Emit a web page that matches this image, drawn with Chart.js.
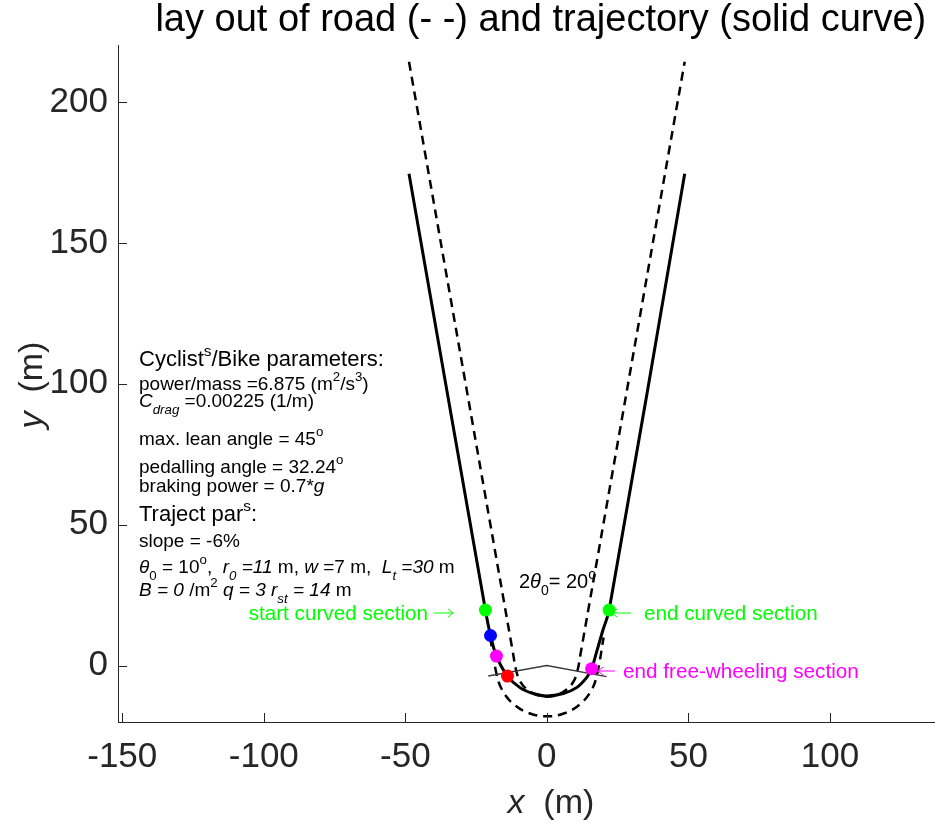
<!DOCTYPE html>
<html>
<head>
<meta charset="utf-8">
<script src="https://cdn.jsdelivr.net/npm/chart.js@4/dist/chart.umd.min.js"></script>
<style>
html, body { margin: 0; padding: 0; background: #fff; overflow: hidden; }
#wrap { position: absolute; left: 0; top: 0; width: 1016px; height: 825px; }
</style>
</head>
<body>
<div id="wrap"><canvas id="road" width="1016" height="825"></canvas></div>
<script>
// tick labels
const xTicks = [-150, -100, -50, 0, 50, 100, 150];
const yTicks = [0, 50, 100, 150, 200];

// road edges (dashed)
const innerX = [-48.7, -12.05, -10.8, -9.5, -7.1, -3.8, 0, 3.8, 7.1, 9.5, 10.8, 12.05, 48.7];
const innerY = [214.3, 5, -1.9, -5.5, -8.4, -10.3, -11, -10.3, -8.4, -5.5, -1.9, 5, 214.3];
const outerX = [-20.05, -17.73, -15.6, -11.6, -6.2, 0, 6.2, 11.6, 15.6, 17.73, 20.05];
const outerY = [10, -3.13, -9.0, -13.8, -16.9, -18, -16.9, -13.8, -9.0, -3.13, 10];

// trajectory (solid)
const trajX = [-48.7, -21.7, -19.9, -17.8, -13.9, -9.5, -4.8, 0, 5.8, 10.5, 14.0, 15.8, 17.5, 19.9, 22.0, 48.7];
const trajY = [174.5, 19.7, 10.7, 3.4, -3.7, -7.8, -9.9, -10.8, -9.9, -7.8, -4.3, -1.1, 4.6, 12.9, 19.7, 174.5];

// section markers
const dotX = [-21.7, -19.9, -17.8, -13.9, 15.8, 22.0];
const dotY = [19.7, 10.7, 3.4, -3.7, -1.1, 19.7];
const dotColors = ['#00ff00', '#0000ff', '#ff00ff', '#ff0000', '#ff00ff', '#00ff00'];

// 2*theta0 construction lines
const angX = [-20.7, 0, 21.1];
const angY = [-3.7, 0, -3.9];

const FAM = '"Liberation Sans", Arial, Helvetica, sans-serif';
const INK = '#262626';

const pts = (xs, ys) => xs.map((x, i) => ({ x: x, y: ys[i] }));

// draws a line of text with italic / super / subscript pieces
function rich(ctx, x, y, parts, size, color, align) {
  const fontOf = (k) => {
    const small = k.includes('sup') || k.includes('sub');
    return (k.startsWith('i') ? 'italic ' : '') + (small ? size * 0.7 : size) + 'px ' + FAM;
  };
  let w = 0;
  parts.forEach(([t, k]) => { ctx.font = fontOf(k); w += ctx.measureText(t).width; });
  if (align === 'right') x -= w;
  if (align === 'center') x -= w / 2;
  ctx.fillStyle = color;
  ctx.textAlign = 'left';
  ctx.textBaseline = 'alphabetic';
  parts.forEach(([t, k]) => {
    ctx.font = fontOf(k);
    let dy = 0;
    if (k.includes('sup')) dy = -size * 0.45;
    if (k.includes('sub')) dy = size * 0.35;
    ctx.fillText(t, x, y + dy);
    x += ctx.measureText(t).width;
  });
}

// thin tex-like arrow, head at x2
function arrow(ctx, x1, x2, y, color) {
  const d = x2 > x1 ? -1 : 1;
  ctx.strokeStyle = color;
  ctx.lineWidth = 1;
  ctx.beginPath();
  ctx.moveTo(x1, y); ctx.lineTo(x2, y);
  ctx.moveTo(x2 + d * 5, y - 4); ctx.lineTo(x2, y); ctx.lineTo(x2 + d * 5, y + 4);
  ctx.stroke();
}

const decor = {
  id: 'decor',
  afterDraw(chart) {
    const { ctx, chartArea: a, scales } = chart;
    ctx.save();
    // inward ticks, matlab style
    ctx.strokeStyle = INK;
    ctx.lineWidth = 1;
    xTicks.forEach(v => {
      const p = Math.round(scales.x.getPixelForValue(v)) + 0.5;
      ctx.beginPath(); ctx.moveTo(p, a.bottom); ctx.lineTo(p, a.bottom - 9); ctx.stroke();
    });
    yTicks.forEach(v => {
      const p = Math.round(scales.y.getPixelForValue(v)) + 0.5;
      ctx.beginPath(); ctx.moveTo(a.left, p); ctx.lineTo(a.left + 9, p); ctx.stroke();
    });

    // title
    const cx = (a.left + a.right) / 2;
    rich(ctx, cx - 6, 31, [['lay out of road (- -) and trajectory (solid curve)', '']], 38, '#000', 'center');

    // axis titles
    rich(ctx, cx + 4, 813, [['x', 'i'], ['  (m)', '']], 34, INK, 'center');
    ctx.save();
    ctx.translate(42, 385);
    ctx.rotate(-Math.PI / 2);
    rich(ctx, 0, 0, [['y', 'i'], ['  (m)', '']], 34, INK, 'center');
    ctx.restore();

    // parameter block
    const L = 139, k = '#000';
    rich(ctx, L, 366, [['Cyclist', ''], ['s', 'sup'], ['/Bike parameters:', '']], 22, k);
    rich(ctx, L, 390, [['power/mass =6.875 (m', ''], ['2', 'sup'], ['/s', ''], ['3', 'sup'], [')', '']], 19, k);
    rich(ctx, L, 407, [['C', 'i'], ['drag', 'isub'], [' =0.00225 (1/m)', '']], 19, k);
    rich(ctx, L, 445, [['max. lean angle = 45', ''], ['o', 'sup']], 19, k);
    rich(ctx, L, 473, [['pedalling angle = 32.24', ''], ['o', 'sup']], 19, k);
    rich(ctx, L, 492, [['braking power = 0.7*', ''], ['g', 'i']], 19, k);
    rich(ctx, L, 521, [['Traject par', ''], ['s', 'sup'], [':', '']], 22, k);
    rich(ctx, L, 547, [['slope = -6%', '']], 19, k);
    rich(ctx, L, 573, [['\u03b8', 'i'], ['0', 'sub'], [' = 10', ''], ['o', 'sup'], [',  ', ''],
      ['r', 'i'], ['0', 'isub'], [' =11', 'i'], [' m, ', ''], ['w', 'i'], [' =7 m,  ', ''],
      ['L', 'i'], ['t', 'isub'], [' =30', 'i'], [' m', '']], 19, k);
    rich(ctx, L, 596, [['B = 0', 'i'], [' /m', ''], ['2', 'sup'], [' ', ''], ['q = 3 r', 'i'],
      ['st', 'isub'], [' = 14', 'i'], [' m', '']], 19, k);

    // section labels
    rich(ctx, 428, 620, [['start curved section', '']], 20.7, '#00ff00', 'right');
    arrow(ctx, 434, 453, 613, '#00ff00');
    arrow(ctx, 631, 612, 613, '#00ff00');
    rich(ctx, 644, 620, [['end curved section', '']], 20.7, '#00ff00');
    arrow(ctx, 615, 598, 671, '#ff00ff');
    rich(ctx, 623, 678, [['end free-wheeling section', '']], 20.7, '#ff00ff');
    rich(ctx, 519, 588, [['2', ''], ['\u03b8', 'i'], ['0', 'sub'], ['= 20', ''], ['o', 'sup']], 20, '#000');
    ctx.restore();
  }
};

new Chart(document.getElementById('road'), {
  type: 'scatter',
  data: {
    datasets: [
      { data: pts(dotX, dotY), pointRadius: 6.5, pointHoverRadius: 6.5, borderWidth: 0,
        backgroundColor: dotColors, showLine: false, order: 0 },
      { data: pts(trajX, trajY), showLine: true, pointRadius: 0, borderColor: '#000',
        borderWidth: 3, tension: 0.4, order: 1 },
      { data: pts(angX, angY), showLine: true, pointRadius: 0, borderColor: '#3a3a3a',
        borderWidth: 1.5, tension: 0, order: 2 },
      { data: pts(innerX, innerY), showLine: true, pointRadius: 0, borderColor: '#000',
        borderWidth: 2.5, borderDash: [9, 6], tension: 0.4, order: 3 },
      { data: pts(outerX, outerY), showLine: true, pointRadius: 0, borderColor: '#000',
        borderWidth: 2.5, borderDash: [9, 6], tension: 0.4, order: 4 }
    ]
  },
  options: {
    responsive: false,
    devicePixelRatio: 1,
    animation: false,
    layout: { padding: { top: 45.6, right: 40.3, left: 0, bottom: 0 } },
    plugins: { legend: { display: false }, tooltip: { enabled: false } },
    scales: {
      x: {
        type: 'linear', min: -151.5, max: 151.5,
        afterBuildTicks: s => { s.ticks = xTicks.map(v => ({ value: v })); },
        afterFit: s => { s.height = 103; },
        grid: { display: false, drawTicks: false },
        border: { display: true, color: INK, width: 1 },
        ticks: { color: INK, padding: 14, maxRotation: 0, font: { family: FAM, size: 35 } }
      },
      y: {
        type: 'linear', min: -20, max: 220,
        afterBuildTicks: s => { s.ticks = yTicks.map(v => ({ value: v })); },
        afterFit: s => { s.width = 118; },
        grid: { display: false, drawTicks: false },
        border: { display: true, color: INK, width: 1 },
        ticks: { color: INK, padding: 10, font: { family: FAM, size: 35 } }
      }
    }
  },
  plugins: [decor]
});
</script>
</body>
</html>
